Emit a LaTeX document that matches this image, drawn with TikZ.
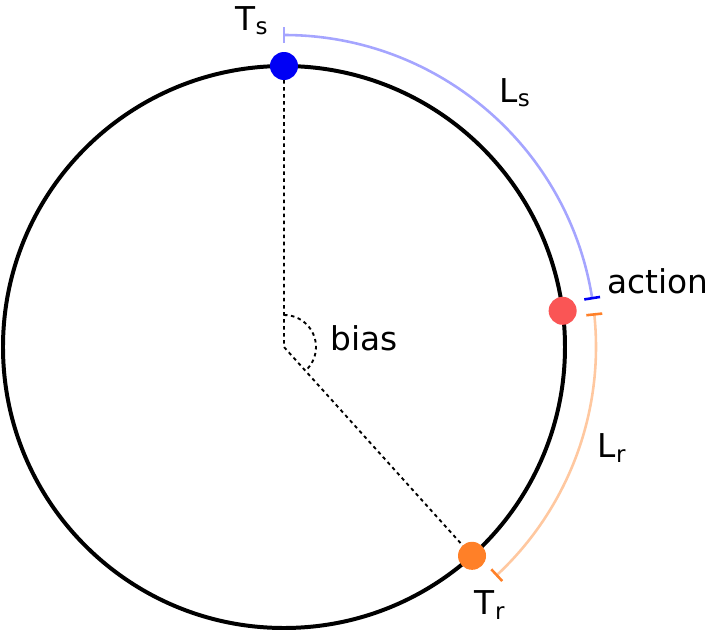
\documentclass[tikz,border=0pt]{standalone}
\usepackage{fontspec}
\setmainfont{DejaVu Sans}
\usetikzlibrary{positioning}
\definecolor{sblue}{RGB}{0,0,245}
\definecolor{sred}{RGB}{250,85,85}
\definecolor{sorange}{RGB}{255,128,40}
\definecolor{lblue}{RGB}{165,165,255}
\definecolor{lorange}{RGB}{255,200,160}
\tikzset{
  dot/.style={circle, fill=#1, inner sep=0pt, minimum size=0.84cm},
  lbl/.style={font=\fontsize{28}{34}\selectfont, inner sep=0pt},
  span/.style={line width=2.2pt, draw=#1},
}
\begin{document}
\begin{tikzpicture}[x=0.03cm, y=0.03cm]
  \useasboundingbox (-284,-285) rectangle (434,347);
  \coordinate (o) at (0,0);
  % main circle
  \draw[line width=3.4pt] (o) circle (281);
  % radii and bias angle
  \draw[dashed, line width=1.6pt] (90:281) -- (o) -- (-48:281);
  \draw[dashed, line width=1.6pt] (90:32) arc (90:-48:32);
  % arcs
  \draw[span=lblue] (90:312) arc (90:9:312);
  \draw[span=lblue] (90:304) -- (90:320);
  \draw[span=sblue] (9:304) -- (9:320);
  \draw[span=lorange] (6:312) arc (6:-47:312);
  \draw[span=sorange] (6:304) -- (6:320);
  \draw[span=sorange] (-47:304) -- (-47:320);
  % points
  \node[dot=sblue] (ts) at (90:281) {};
  \node[dot=sred] (act) at (7.4:281) {};
  \node[dot=sorange] (tr) at (-48:281) {};
  % labels
  \node[lbl] (tsl) at (-32,326) {T\textsubscript{s}};
  \node[lbl] (lsl) at (231,254) {L\textsubscript{s}};
  \node[lbl] (actl) at (374,66) {action};
  \node[lbl] (biasl) at (80,9) {bias};
  \node[lbl] (lrl) at (328,-101) {L\textsubscript{r}};
  \node[lbl] (trl) at (206,-258) {T\textsubscript{r}};
\end{tikzpicture}
\end{document}
